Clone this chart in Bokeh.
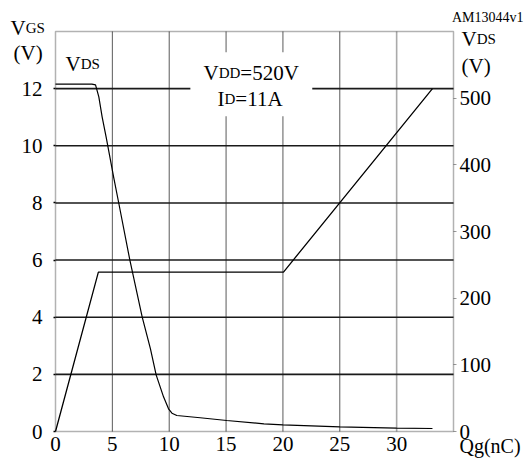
from bokeh.plotting import figure
from bokeh.models import Range1d, LinearAxis, FixedTicker, Label, BoxAnnotation
from bokeh.embed import file_html
from bokeh.resources import INLINE

# Gate charge characteristic: VGS and VDS versus total gate charge
qg_vgs = [0, 3.77, 20.05, 33.15]
vgs = [0, 5.58, 5.58, 12.0]

qg_vds = [0, 3.2, 3.52, 3.81, 4.1, 4.45, 4.78, 5.13, 5.57, 6.54, 7.62, 8.35,
          8.85, 9.5, 9.94, 10.24, 10.67, 12.72, 15.06, 18.33, 20, 25, 30, 33.15]
vds = [521, 521, 520, 502, 472, 442, 412, 380, 342, 257, 172, 124,
       85, 52, 34, 27.5, 24, 20.6, 16.5, 11.5, 10, 7, 5, 4.5]

x_ticks = [0, 5, 10, 15, 20, 25, 30]
vgs_ticks = [0, 2, 4, 6, 8, 10, 12]
vds_ticks = [0, 100, 200, 300, 400, 500]

QG_MAX, VGS_MAX, VDS_MAX = 35, 14, 600

FONT = "Liberation Serif"
W, H = 528, 460
# pixel box of the chart area inside the canvas
BOX_L, BOX_R, BOX_T, BOX_B = 55, 453, 31, 431

px_x = (BOX_R - BOX_L) / QG_MAX
px_y = (BOX_B - BOX_T) / VGS_MAX
px_v = (BOX_B - BOX_T) / VDS_MAX

x_range = Range1d(-BOX_L / px_x, QG_MAX + (W - BOX_R) / px_x)
y_range = Range1d(-(H - BOX_B) / px_y, VGS_MAX + BOX_T / px_y)
v_range = Range1d(-(H - BOX_B) / px_v, VDS_MAX + BOX_T / px_v)

p = figure(width=W, height=H, x_range=x_range, y_range=y_range, title=None,
           min_border=0, min_border_left=0, min_border_right=0,
           min_border_top=0, min_border_bottom=0,
           x_axis_type=None, y_axis_type=None,
           output_backend="svg", toolbar_location=None)
p.extra_y_ranges = {"vds": v_range}
p.background_fill_color = "white"
p.border_fill_color = "white"
p.outline_line_color = None
p.grid.visible = False

# grid lines inside the chart box
p.segment(x0=x_ticks[1:-1], y0=0, x1=x_ticks[1:-1], y1=VGS_MAX,
          line_color="#5a5a5a", line_width=1)
p.segment(x0=x_ticks[-1:], y0=0, x1=x_ticks[-1:], y1=VGS_MAX,
          line_color="#aaaaaa", line_width=1.6)
p.segment(x0=0, y0=vgs_ticks[1:], x1=QG_MAX, y1=vgs_ticks[1:],
          line_color="#1a1a1a", line_width=1.6)


def style_axis(ax, size="21px"):
    ax.axis_line_color = None
    ax.minor_tick_line_color = None
    ax.major_label_text_font = FONT
    ax.major_label_text_font_size = size
    ax.major_label_text_color = "black"


xa = LinearAxis(ticker=FixedTicker(ticks=x_ticks), fixed_location=0)
style_axis(xa)
xa.major_tick_line_color = None
xa.major_tick_out = 0
xa.major_tick_in = 0
xa.major_label_standoff = 5
p.add_layout(xa, "below")

ya = LinearAxis(ticker=FixedTicker(ticks=vgs_ticks), fixed_location=0)
style_axis(ya)
ya.major_tick_line_color = "black"
ya.major_tick_line_width = 1.5
ya.major_tick_out = 2
ya.major_tick_in = 0
ya.major_label_standoff = 11
p.add_layout(ya, "left")

ra = LinearAxis(y_range_name="vds", ticker=FixedTicker(ticks=vds_ticks),
                fixed_location=QG_MAX)
style_axis(ra)
ra.major_tick_line_color = "#999999"
ra.major_tick_line_width = 1
ra.major_tick_out = 3
ra.major_tick_in = 0
ra.major_label_standoff = 3
p.add_layout(ra, "right")

# curves
p.line(qg_vgs, vgs, line_color="black", line_width=1.3)
p.line(qg_vds, vds, y_range_name="vds", line_color="black", line_width=1.2)

# frame around the chart box
p.add_layout(BoxAnnotation(left=0, right=QG_MAX, bottom=0, top=VGS_MAX,
                           fill_color=None, line_color="black", line_width=1.5))

# white panel behind the test-condition note
p.add_layout(BoxAnnotation(left=11.86, right=22.58, bottom=11.03, top=13.27,
                           fill_color="white", fill_alpha=1.0, line_color=None))

ADV = {'V': 0.722, 'G': 0.722, 'S': 0.556, 'D': 0.722, 'I': 0.333, '=': 0.564,
       'A': 0.722, '(': 0.333, ')': 0.333}


def text_width(s, size):
    return sum(ADV.get(c, 0.5) for c in s) * size


def put_text(pieces, x, baseline, align="left"):
    """Place a run of text pieces (text, size) from canvas pixel x on a baseline."""
    for txt, size in pieces:
        p.add_layout(Label(x=x, y=H - baseline, x_units="screen", y_units="screen",
                           text=txt, text_font=FONT, text_font_size=f"{size}px",
                           text_color="black", text_baseline="alphabetic",
                           text_align=align))
        x += text_width(txt, size)


BIG, SMALL = 21, 15
put_text([("V", BIG), ("GS", SMALL)], 10, 27)
put_text([("(V)", BIG)], 13, 52)
put_text([("V", BIG), ("DS", SMALL)], 461, 38)
put_text([("(V)", BIG)], 461, 65)
put_text([("V", BIG), ("DS", SMALL)], 65, 63)
put_text([("V", BIG), ("DD", SMALL), ("=520V", BIG)], 203, 72)
put_text([("I", BIG), ("D", SMALL), ("=11A", BIG)], 217, 98)
put_text([("Qg(nC)", 20)], 459, 445)
put_text([("AM13044v1", 14)], 523, 17, align="right")

open("out.html", "w").write(file_html(p, INLINE))
